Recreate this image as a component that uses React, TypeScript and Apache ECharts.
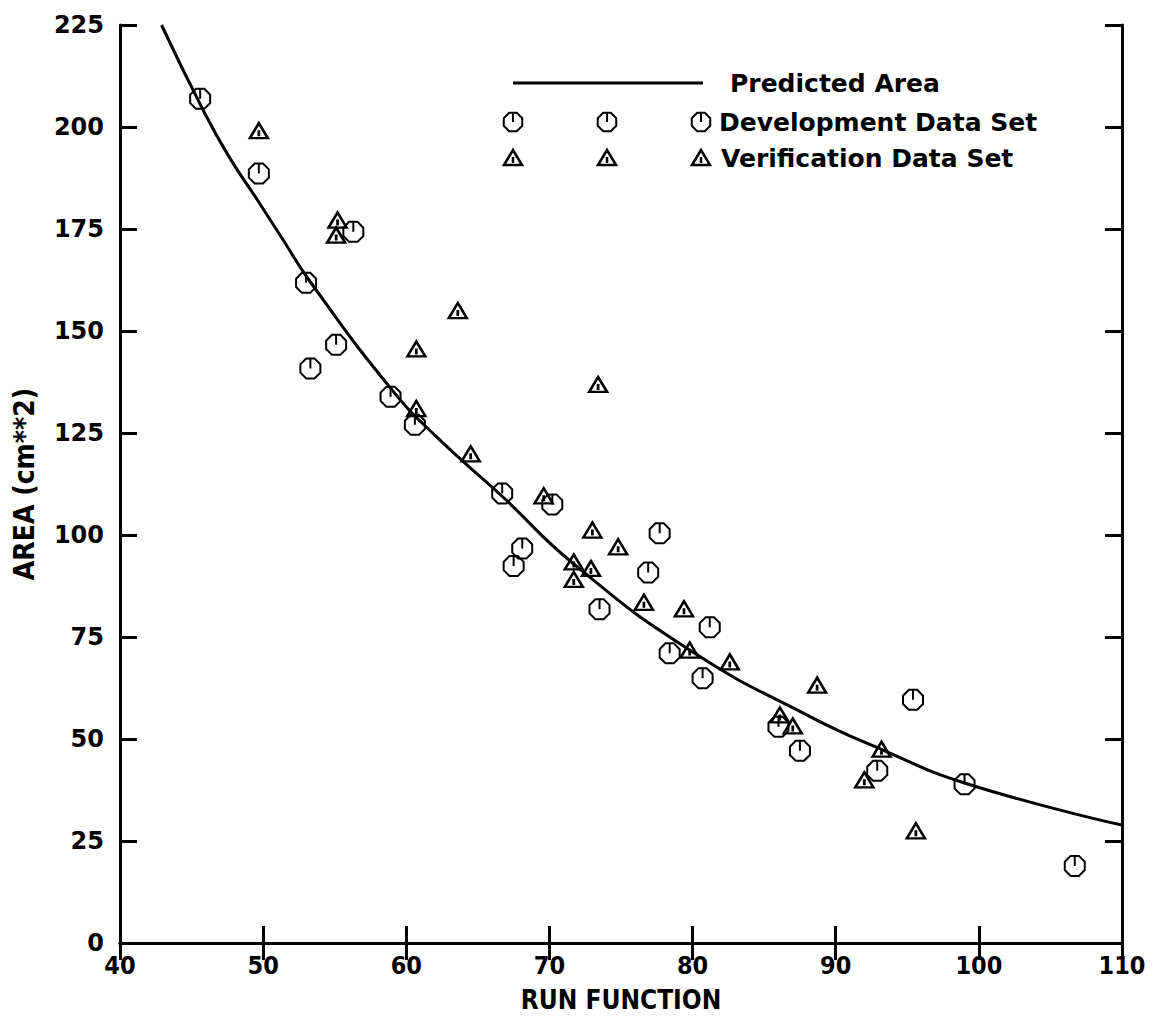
import React, { useEffect, useRef } from "react";
import * as echarts from "echarts";

// Development data set (circles)
const devX = [45.6, 49.7, 56.3, 53.0, 55.1, 53.3, 58.9, 60.6, 66.7, 70.2, 77.7, 68.1, 67.5, 76.9, 73.5, 81.2, 78.4, 80.7, 95.4, 86.0, 87.5, 92.9, 99.0, 106.7];
const devY = [206.9, 188.6, 174.3, 161.8, 146.6, 140.8, 133.9, 127.0, 110.2, 107.5, 100.4, 96.7, 92.4, 90.8, 81.8, 77.4, 71.0, 64.9, 59.6, 53.0, 47.1, 42.2, 38.9, 18.9];

// Verification data set (triangles)
const verX = [49.7, 55.2, 55.1, 63.6, 60.7, 60.7, 73.4, 64.5, 69.6, 73.0, 74.8, 71.7, 72.9, 71.7, 76.6, 79.4, 79.8, 82.6, 88.7, 86.1, 87.0, 93.2, 92.0, 95.6];
const verY = [199.1, 177.2, 173.5, 155.0, 145.6, 131.0, 136.9, 119.9, 109.6, 101.2, 97.1, 93.4, 91.8, 89.1, 83.5, 81.9, 71.8, 68.9, 63.2, 55.9, 53.2, 47.5, 40.0, 27.5];

// Predicted area curve
const fitX = [42.9, 45.8, 47.6, 49.6, 51.4, 53.2, 58.9, 62.1, 66.6, 71.7, 79.8, 88.2, 93.3, 99.1, 110];
const fitY = [225, 204.2, 192.8, 182.1, 172.3, 162.5, 136.0, 124.1, 109.8, 92.9, 71.8, 55.5, 47.3, 39.1, 28.9];

const legendLabels = ["Predicted Area", "Development Data Set", "Verification Data Set"];
const xTitle = "RUN FUNCTION";
const yTitle = "AREA (cm**2)";

const OCT_PATH =
  "M9.24 -3.83 L3.83 -9.24 L-3.83 -9.24 L-9.24 -3.83 L-9.24 3.83 L-3.83 9.24 L3.83 9.24 L9.24 3.83 Z M0 -9.24 L0 0";
const TRI_PATH = "M-9 7 L0 -8 L9 7 Z M0 -1 L0 5";

echarts.graphic.registerShape("octMark", echarts.graphic.extendPath(OCT_PATH, {}));
echarts.graphic.registerShape("triMark", echarts.graphic.extendPath(TRI_PATH, {}));

const LABEL_FONT = "'DejaVu Sans', sans-serif";
const COND_FONT = "'DejaVu Sans Condensed', 'Liberation Sans Narrow', 'DejaVu Sans', sans-serif";

export default function App() {
  const ref = useRef<HTMLDivElement>(null);

  useEffect(() => {
    if (!ref.current) return;
    const chart = echarts.init(ref.current, undefined, { renderer: "svg" });

    const axisLine = { show: true, lineStyle: { color: "#000", width: 3 } };
    const axisTick = { show: true, inside: true, length: 17, lineStyle: { color: "#000", width: 3 } };

    const legendFont = `bold 25px ${LABEL_FONT}`;
    const legendGraphics: any[] = [
      { type: "line", shape: { x1: 513, y1: 83, x2: 703, y2: 83 }, style: { stroke: "#000", lineWidth: 3 } },
      {
        type: "text",
        x: 730,
        y: 83,
        style: { text: legendLabels[0], fill: "#000", font: legendFont, verticalAlign: "middle" },
      },
      {
        type: "text",
        x: 719,
        y: 122,
        style: { text: legendLabels[1], fill: "#000", font: legendFont, verticalAlign: "middle" },
      },
      {
        type: "text",
        x: 721,
        y: 158,
        style: { text: legendLabels[2], fill: "#000", font: legendFont, verticalAlign: "middle" },
      },
    ];
    [513, 607, 701].forEach((cx) => {
      legendGraphics.push({ type: "octMark", x: cx, y: 122, style: { fill: "none", stroke: "#000", lineWidth: 2 } });
      legendGraphics.push({ type: "triMark", x: cx, y: 158, style: { fill: "none", stroke: "#000", lineWidth: 2.5 } });
    });

    chart.setOption({
      animation: false,
      backgroundColor: "#fff",
      grid: { left: 120, right: 32, top: 25, bottom: 80, containLabel: false },
      xAxis: [
        {
          type: "value",
          min: 40,
          max: 110,
          interval: 10,
          position: "bottom",
          axisLine,
          axisTick,
          splitLine: { show: false },
          axisLabel: { color: "#000", fontFamily: COND_FONT, fontWeight: "bold", fontSize: 25, margin: 10 },
          name: xTitle,
          nameLocation: "middle",
          nameGap: 44,
          nameTextStyle: { color: "#000", fontFamily: COND_FONT, fontWeight: "bold", fontSize: 26 },
        },
        {
          type: "value",
          min: 40,
          max: 110,
          interval: 10,
          position: "top",
          axisLine,
          axisTick,
          splitLine: { show: false },
          axisLabel: { show: false },
        },
      ],
      yAxis: [
        {
          type: "value",
          min: 0,
          max: 225,
          interval: 25,
          position: "left",
          axisLine,
          axisTick,
          splitLine: { show: false },
          axisLabel: { color: "#000", fontFamily: LABEL_FONT, fontWeight: "bold", fontSize: 24, margin: 16 },
          name: yTitle,
          nameLocation: "middle",
          nameGap: 82,
          nameRotate: 90,
          nameTextStyle: { color: "#000", fontFamily: COND_FONT, fontWeight: "bold", fontSize: 28 },
        },
        {
          type: "value",
          min: 0,
          max: 225,
          interval: 25,
          position: "right",
          axisLine,
          axisTick,
          splitLine: { show: false },
          axisLabel: { show: false },
        },
      ],
      series: [
        {
          name: legendLabels[0],
          type: "line",
          data: fitX.map((x, i) => [x, fitY[i]]),
          smooth: 0.5,
          showSymbol: false,
          symbol: "none",
          lineStyle: { color: "#000", width: 3 },
          clip: true,
          z: 2,
        },
        {
          name: legendLabels[1],
          type: "scatter",
          data: devX.map((x, i) => [x, devY[i]]),
          symbol: "path://" + OCT_PATH,
          symbolSize: [20, 20],
          itemStyle: { color: "rgba(0,0,0,0)", borderColor: "#000", borderWidth: 2, opacity: 1 },
          z: 3,
        },
        {
          name: legendLabels[2],
          type: "scatter",
          data: verX.map((x, i) => [x, verY[i]]),
          symbol: "path://" + TRI_PATH,
          symbolSize: [18, 15],
          itemStyle: { color: "rgba(0,0,0,0)", borderColor: "#000", borderWidth: 2.5, opacity: 1 },
          z: 3,
        },
      ],
      graphic: legendGraphics,
    });

    return () => chart.dispose();
  }, []);

  return (
    <div
      ref={ref}
      style={{ position: "fixed", left: 0, top: 0, width: 1154, height: 1023, background: "#fff" }}
    />
  );
}
